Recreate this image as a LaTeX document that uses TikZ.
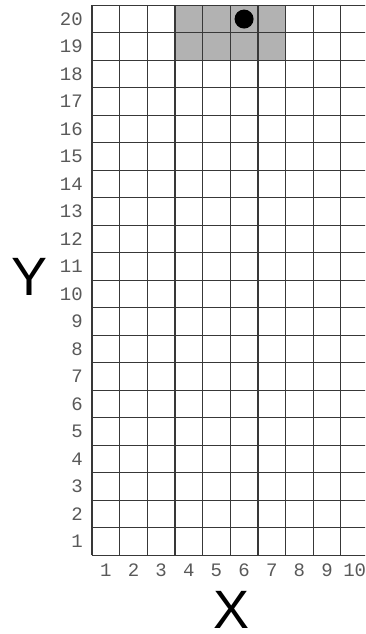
\documentclass[tikz,border=0pt]{standalone}
\usepackage{fontspec}
\newfontfamily\labfont{Liberation Mono}
\newfontfamily\bigfont{Liberation Sans}
\begin{document}
\begin{tikzpicture}[x=1pt,y=-1pt,
  gridline/.style={draw=black!78,line width=1.2pt},
  numlab/.style={font=\labfont\fontsize{19}{19}\selectfont,text=black!65,inner sep=0pt},
  axislab/.style={font=\bigfont\fontsize{54}{54}\selectfont,text=black,inner sep=0pt},
  shade/.style={fill=black!30,draw=none}]
\useasboundingbox (0,0) rectangle (365,634);
\clip (0,0) rectangle (365,634);
\def\cw{27.65}
\def\rh{27.5}
\def\gx{92}
\def\gb{555.3}
% shaded region
\fill[shade] (\gx+3*\cw,\gb-20*\rh) rectangle (\gx+7*\cw,\gb-18*\rh);
% grid
\foreach \i in {0,...,10}{
  \draw[gridline] (\gx+\i*\cw,\gb) -- (\gx+\i*\cw,\gb-20*\rh);
}
\foreach \j in {0,...,20}{
  \draw[gridline] (\gx,\gb-\j*\rh) -- (\gx+10*\cw,\gb-\j*\rh);
}
% dot
\fill[black] (\gx+5.5*\cw,\gb-19.5*\rh) circle (9.5);
% x labels
\foreach \i in {1,...,10}{
  \node[numlab] (xl\i) at (\gx+\i*\cw-\cw/2,570) {\i};
}
% y labels
\foreach \j in {1,...,20}{
  \node[numlab,anchor=east] (yl\j) at (83,\gb-\j*\rh+\rh/2) {\j};
}
\node[axislab,anchor=base] (X) at (232,628) {X};
\node[axislab] (Y) at (30,277) {Y};
\end{tikzpicture}
\end{document}
